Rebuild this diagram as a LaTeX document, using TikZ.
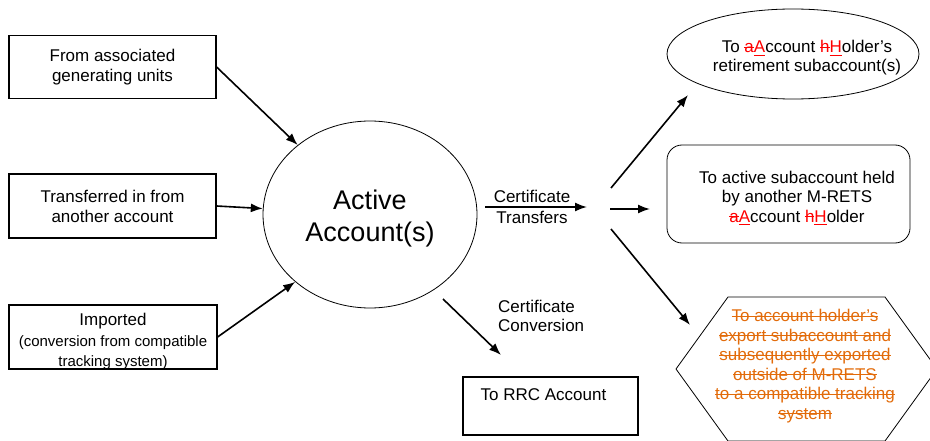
\documentclass[tikz,border=0pt]{standalone}
\usepackage{fontspec}
\setmainfont{Liberation Sans}
\usetikzlibrary{arrows.meta,shapes.geometric}
\definecolor{trkorange}{RGB}{226,107,10}
\newlength{\chlen}
\newcommand{\strk}[1]{\settowidth{\chlen}{#1}\rlap{\rule[4.8pt]{\chlen}{1.2pt}}#1}
\newcommand{\undl}[1]{\settowidth{\chlen}{#1}\rlap{\rule[-3pt]{\chlen}{1.2pt}}#1}
\newcommand{\chdel}[1]{{\color{red}\strk{#1}}}
\newcommand{\chins}[1]{{\color{red}\undl{#1}}}
\newcommand{\smalltxt}{\fontsize{15}{20}\selectfont}
\begin{document}
\begin{tikzpicture}[x=1pt, y=-1pt, font=\fontsize{17}{20}\selectfont,
    box/.style={draw, line width=1.2pt, minimum width=207pt, minimum height=63pt, align=center, inner sep=0pt},
    oval/.style={draw, ellipse, line width=0.8pt, inner sep=0pt},
    lbl/.style={align=center, inner sep=0pt},
    arr/.style={-{Latex[length=12pt,width=9pt]}, line width=1.6pt}]
  \useasboundingbox (0,0) rectangle (930,441);
  \draw
    (112.5,67) node[box] (gen) {From associated\\generating units}
    (112.5,206) node[box, minimum height=64pt] (trn) {Transferred in from\\another account}
    (113,337) node[box, minimum width=208pt, minimum height=64pt,
      label={[lbl, yshift=-4pt]center:{Imported\\[1pt]{\smalltxt (conversion from compatible}\\{\smalltxt tracking system)}}}] (imp) {}
    (370,214.5) node[oval, minimum width=214pt, minimum height=187pt,
      label={[lbl, yshift=-4.5pt, font=\fontsize{27}{32}\selectfont]center:{Active\\Account(s)}}] (act) {}
    (793,54) node[oval, minimum width=252pt, minimum height=90pt,
      label={[lbl, xshift=14pt, yshift=-4pt, font=\fontsize{17}{19}\selectfont]center:{To \chdel{a}\chins{A}ccount \chdel{h}\chins{H}older’s\\retirement subaccount(s)}}] (ret) {}
    (788.5,194) node[draw, line width=0.8pt, rounded corners=15pt, minimum width=243pt, minimum height=98pt,
      label={[lbl, xshift=8.5pt, yshift=-4pt, font=\fontsize{17}{19.5}\selectfont]center:{To active subaccount held\\by another M-RETS\\\chdel{a}\chins{A}ccount \chdel{h}\chins{H}older}}] (sub) {}
    (550.5,406) node[box, minimum width=175pt, minimum height=58pt,
      label={[lbl, xshift=-7pt, yshift=11pt]center:To RRC Account}] (rrc) {}
    (805,366) node[lbl, text=trkorange, font=\fontsize{17}{19.5}\selectfont] (exp)
      {\strk{To account holder’s}\\\strk{export subaccount and}\\\strk{subsequently exported}\\
       \strk{outside of M-RETS}\\\strk{to a compatible tracking}\\\strk{system}}
    (498,299.5) node[lbl, align=left, anchor=north west, font=\fontsize{17}{19}\selectfont] (cvl) {Certificate\\Conversion};
  % export hexagon
  \draw[line width=0.8pt] (676,369) -- (728,297) -- (885,297) -- (937,369) -- (885,441) -- (728,441) -- cycle;
  \coordinate (t0) at (587,207);
  \coordinate (f1) at (611,188);
  \coordinate (e1) at (688,95);
  \coordinate (f2) at (610,209);
  \coordinate (e2) at (650,209);
  \coordinate (f3) at (611,229);
  \coordinate (e3) at (690,325);
  \coordinate (c1) at (443,299);
  \coordinate (c2) at (501,355);
  \begin{scope}[arr]
    \draw (gen.east) to (act);
    \draw (trn.east) to (act);
    \draw (imp.east) to (act.222);
    \draw[shorten <=8pt] (act.4) to node[lbl, font=\fontsize{17}{21}\selectfont] {Certificate\\Transfers} (t0);
    \draw (f1) to (e1);
    \draw (f2) to (e2);
    \draw (f3) to (e3);
    \draw (c1) to (c2);
  \end{scope}
\end{tikzpicture}
\end{document}
